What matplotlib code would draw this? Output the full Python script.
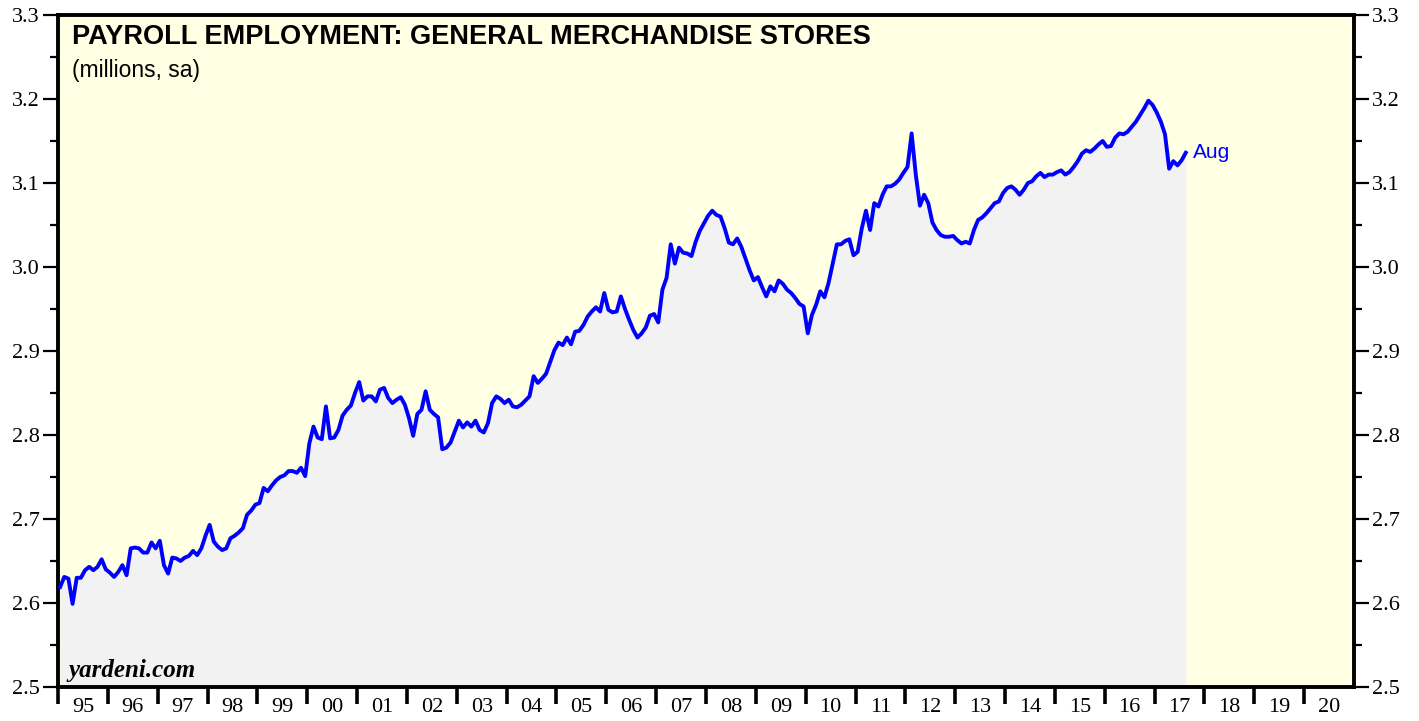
import numpy as np
import matplotlib
matplotlib.use('Agg')
import matplotlib.pyplot as plt
from matplotlib.ticker import MultipleLocator, FixedLocator, NullFormatter

# monthly payroll employment, general merchandise stores (millions, sa), Jan 1995 .. Aug 2017
v1995 = [2.619, 2.631, 2.629, 2.599, 2.630, 2.630, 2.639, 2.643, 2.639, 2.643, 2.652, 2.640]
v1996 = [2.636, 2.631, 2.637, 2.645, 2.633, 2.665, 2.666, 2.665, 2.660, 2.660, 2.672, 2.665]
v1997 = [2.674, 2.645, 2.635, 2.654, 2.653, 2.650, 2.654, 2.656, 2.662, 2.657, 2.665, 2.680]
v1998 = [2.693, 2.673, 2.667, 2.663, 2.665, 2.677, 2.680, 2.684, 2.689, 2.705, 2.710, 2.717]
v1999 = [2.719, 2.737, 2.733, 2.740, 2.746, 2.750, 2.752, 2.757, 2.757, 2.755, 2.761, 2.751]
v2000 = [2.790, 2.810, 2.797, 2.795, 2.834, 2.796, 2.797, 2.806, 2.823, 2.830, 2.835, 2.850]
v2001 = [2.863, 2.841, 2.846, 2.846, 2.840, 2.854, 2.856, 2.844, 2.838, 2.842, 2.845, 2.836]
v2002 = [2.820, 2.799, 2.825, 2.830, 2.852, 2.830, 2.825, 2.821, 2.783, 2.785, 2.791, 2.804]
v2003 = [2.817, 2.809, 2.815, 2.810, 2.817, 2.806, 2.803, 2.814, 2.838, 2.846, 2.843, 2.838]
v2004 = [2.842, 2.834, 2.833, 2.836, 2.841, 2.846, 2.870, 2.862, 2.867, 2.873, 2.887, 2.901]
v2005 = [2.910, 2.907, 2.916, 2.908, 2.923, 2.924, 2.931, 2.941, 2.947, 2.952, 2.947, 2.969]
v2006 = [2.949, 2.946, 2.947, 2.965, 2.950, 2.937, 2.925, 2.916, 2.921, 2.928, 2.942, 2.944]
v2007 = [2.934, 2.973, 2.987, 3.027, 3.004, 3.023, 3.017, 3.016, 3.013, 3.030, 3.043, 3.052]
v2008 = [3.061, 3.067, 3.062, 3.060, 3.046, 3.029, 3.027, 3.034, 3.024, 3.010, 2.996, 2.984]
v2009 = [2.988, 2.976, 2.965, 2.977, 2.971, 2.984, 2.980, 2.973, 2.969, 2.963, 2.956, 2.953]
v2010 = [2.921, 2.943, 2.955, 2.971, 2.964, 2.981, 3.004, 3.027, 3.027, 3.031, 3.033, 3.014]
v2011 = [3.018, 3.046, 3.067, 3.044, 3.076, 3.072, 3.086, 3.096, 3.096, 3.099, 3.104, 3.112]
v2012 = [3.119, 3.159, 3.110, 3.073, 3.086, 3.076, 3.053, 3.044, 3.038, 3.036, 3.036, 3.037]
v2013 = [3.032, 3.028, 3.030, 3.028, 3.044, 3.056, 3.059, 3.064, 3.070, 3.076, 3.078, 3.088]
v2014 = [3.094, 3.096, 3.092, 3.086, 3.092, 3.100, 3.102, 3.108, 3.112, 3.107, 3.110, 3.110]
v2015 = [3.113, 3.115, 3.110, 3.113, 3.119, 3.126, 3.135, 3.139, 3.137, 3.141, 3.146, 3.150]
v2016 = [3.143, 3.144, 3.154, 3.159, 3.158, 3.161, 3.167, 3.173, 3.181, 3.189, 3.198, 3.193]
v2017 = [3.184, 3.173, 3.158, 3.117, 3.126, 3.121, 3.127, 3.136]

values = (v1995 + v1996 + v1997 + v1998 + v1999 + v2000 + v2001 + v2002 + v2003
          + v2004 + v2005 + v2006 + v2007 + v2008 + v2009 + v2010 + v2011 + v2012
          + v2013 + v2014 + v2015 + v2016 + v2017)
years = np.arange(1995, 2021)
year_labels = ['%02d' % (y % 100) for y in years]

x = 1995 + (np.arange(len(values)) + 0.5) / 12.0
y = np.array(values)

fig = plt.figure(figsize=(14.19, 7.21), dpi=100)
ax = fig.add_axes([0.0409, 0.0472, 0.9133, 0.932])
ax.set_facecolor('#ffffe3')
ax.set_xlim(1995, 2021)
ax.set_ylim(2.5, 3.3)

ax.fill_between(x, 2.5, y, color='#f2f2f2', lw=0, zorder=1)
ax.plot(x, y, color='#0000ff', lw=2.8, zorder=3, solid_joinstyle='round')
ax.text(x[-1] + 0.15, y[-1], 'Aug', color='#0000ff', fontsize=15,
        family='Liberation Sans', va='center', ha='left')

for s in ax.spines.values():
    s.set_linewidth(2.8)
    s.set_color('black')

ax.yaxis.set_major_locator(MultipleLocator(0.1))
ax.yaxis.set_minor_locator(MultipleLocator(0.05))
ax.yaxis.set_major_formatter(plt.FuncFormatter(lambda v, p: '%.1f' % v))
ax.tick_params(axis='y', which='major', direction='out', length=11, width=1.6,
               left=True, right=True, labelleft=True, labelright=True, labelsize=16, pad=2)
ax.tick_params(axis='y', which='minor', direction='out', length=6, width=1.6,
               left=True, right=True)

ax.xaxis.set_major_locator(FixedLocator(years))
ax.xaxis.set_major_formatter(NullFormatter())
ax.xaxis.set_minor_locator(FixedLocator(years + 0.5))
ax.xaxis.set_minor_formatter(plt.FixedFormatter(year_labels))
ax.tick_params(axis='x', which='major', direction='out', length=12, width=2.6)
ax.tick_params(axis='x', which='minor', length=0, labelsize=16, pad=8)

for lab in ax.get_yticklabels() + ax.get_xticklabels(minor=True):
    lab.set_family('Liberation Serif')

ax.text(0.011, 0.987, 'PAYROLL EMPLOYMENT: GENERAL MERCHANDISE STORES', transform=ax.transAxes,
        fontsize=19.5, fontweight='bold', family='Liberation Sans', va='top', ha='left')
ax.text(0.011, 0.935, '(millions, sa)', transform=ax.transAxes,
        fontsize=16.5, family='Liberation Sans', va='top', ha='left')
ax.text(0.008, 0.008, 'yardeni.com', transform=ax.transAxes, fontsize=18,
        fontweight='bold', style='italic', family='Liberation Serif', va='bottom', ha='left')

fig.savefig('out.png', dpi=100)
